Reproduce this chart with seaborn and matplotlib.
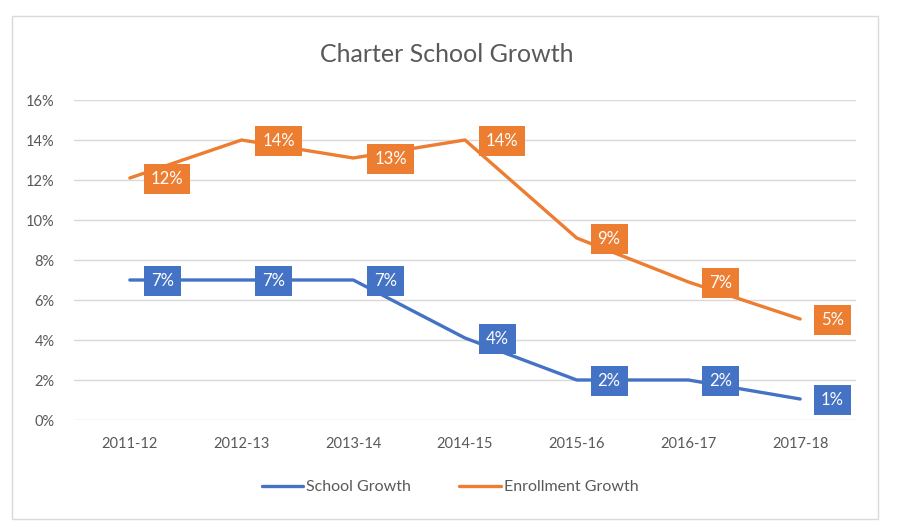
import matplotlib
matplotlib.use("Agg")
import matplotlib.pyplot as plt
import matplotlib.patches as mpatches
import seaborn as sns
import pandas as pd

years = ["2011-12", "2012-13", "2013-14", "2014-15", "2015-16", "2016-17", "2017-18"]
school_growth = [7, 7, 7, 4.1, 2, 2, 1.05]
enrollment_growth = [12.1, 14, 13.1, 14, 9.1, 6.9, 5.05]
school_labels = ["7%", "7%", "7%", "4%", "2%", "2%", "1%"]
enroll_labels = ["12%", "14%", "13%", "14%", "9%", "7%", "5%"]
y_ticks = [0, 2, 4, 6, 8, 10, 12, 14, 16]

BLUE = "#4472C4"
ORANGE = "#ED7D31"
GREY = "#595959"

sns.set_theme(style="white")
plt.rcParams["font.family"] = ["Lato", "DejaVu Sans"]

df = pd.DataFrame({
    "Year": years * 2,
    "Value": school_growth + enrollment_growth,
    "Series": ["School Growth"] * len(years) + ["Enrollment Growth"] * len(years),
})

W, H = 898, 529
fig = plt.figure(figsize=(W / 100, H / 100), dpi=100)
ax = fig.add_axes([74 / W, 1 - 420 / H, (856 - 74) / W, (420 - 100) / H])

fig.patches.append(mpatches.Rectangle((12 / W, 1 - 519 / H), (878 - 12) / W, (519 - 16) / H,
                                      transform=fig.transFigure, fill=False,
                                      edgecolor="#D9D9D9", linewidth=1))

sns.lineplot(data=df, x="Year", y="Value", hue="Series", sort=False,
             palette={"School Growth": BLUE, "Enrollment Growth": ORANGE},
             linewidth=2.4, ax=ax, legend=False)

ax.set_xlim(-0.5, len(years) - 0.5)
ax.set_ylim(0, 16)
ax.set_yticks(y_ticks)
ax.set_yticklabels([f"{t}%" for t in y_ticks])
ax.set_xlabel("")
ax.set_ylabel("")
ax.grid(axis="y", color="#D9D9D9", linewidth=1)
ax.grid(axis="x", visible=False)
for s in ax.spines.values():
    s.set_visible(False)
ax.tick_params(axis="both", length=0, colors=GREY, labelsize=10.5)
ax.tick_params(axis="y", pad=14)
ax.tick_params(axis="x", pad=12)

for vals, labs, col in [(school_growth, school_labels, BLUE), (enrollment_growth, enroll_labels, ORANGE)]:
    for i, (v, l) in enumerate(zip(vals, labs)):
        ax.annotate(l, (i, v), xytext=(15, -1), textcoords="offset points",
                    ha="left", va="center", color="white", fontsize=12,
                    bbox=dict(boxstyle="square,pad=0.42", facecolor=col, edgecolor="none"))

fig.text(447 / W, 1 - 55 / H, "Charter School Growth", ha="center", va="center",
         fontsize=18, color=GREY)

handles = [plt.Line2D([], [], color=BLUE, linewidth=2.4), plt.Line2D([], [], color=ORANGE, linewidth=2.4)]
fig.legend(handles, ["School Growth", "Enrollment Growth"], loc="center",
           bbox_to_anchor=(450 / W, 1 - 487 / H), ncol=2, frameon=False,
           fontsize=11.5, labelcolor=GREY, handlelength=2.6, handletextpad=0.2, columnspacing=3)

fig.savefig("out.png", dpi=100, facecolor="white")
